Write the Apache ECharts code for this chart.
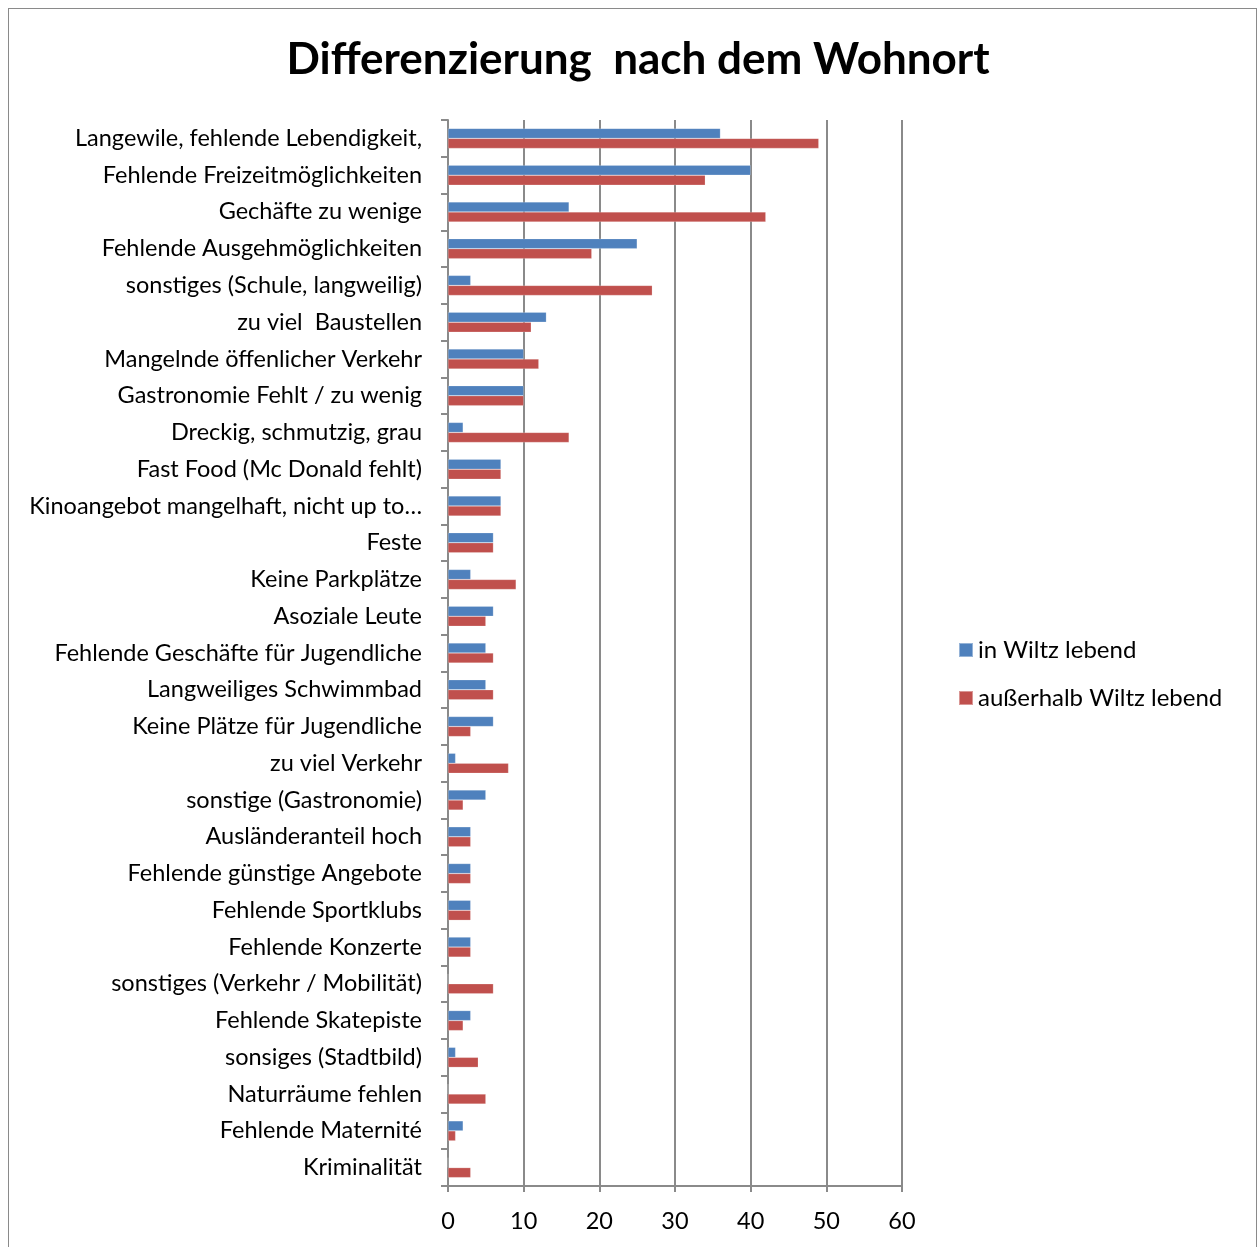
<!DOCTYPE html>
<html>
<head>
<meta charset="utf-8">
<script src="https://cdn.jsdelivr.net/npm/echarts@6/dist/echarts.min.js"></script>
<style>
  html, body { margin: 0; padding: 0; background: #fff; }
  #frame {
    position: absolute; left: 8px; top: 8px; width: 1249px; height: 1260px;
    border: 1px solid #8a8a8a; box-sizing: border-box;
  }
  #chart { position: absolute; left: 0; top: 0; width: 1260px; height: 1247px; }
</style>
</head>
<body>
<div id="frame"></div>
<div id="chart"></div>
<script>
const categories = [
  'Langewile, fehlende Lebendigkeit,',
  'Fehlende Freizeitmöglichkeiten',
  'Gechäfte zu wenige',
  'Fehlende Ausgehmöglichkeiten',
  'sonstiges (Schule, langweilig)',
  'zu viel  Baustellen',
  'Mangelnde öffenlicher Verkehr',
  'Gastronomie Fehlt / zu wenig',
  'Dreckig, schmutzig, grau',
  'Fast Food (Mc Donald fehlt)',
  'Kinoangebot mangelhaft, nicht up to…',
  'Feste',
  'Keine Parkplätze',
  'Asoziale Leute',
  'Fehlende Geschäfte für Jugendliche',
  'Langweiliges Schwimmbad',
  'Keine Plätze für Jugendliche',
  'zu viel Verkehr',
  'sonstige (Gastronomie)',
  'Ausländeranteil hoch',
  'Fehlende günstige Angebote',
  'Fehlende Sportklubs',
  'Fehlende Konzerte',
  'sonstiges (Verkehr / Mobilität)',
  'Fehlende Skatepiste',
  'sonsiges (Stadtbild)',
  'Naturräume fehlen',
  'Fehlende Maternité',
  'Kriminalität'
]
const inWiltz = [36, 40, 16, 25, 3, 13, 10, 10, 2, 7, 7, 6, 3, 6, 5, 5, 6, 1, 5, 3, 3, 3, 3, 0, 3, 1, 0, 2, 0]
const ausserhalb = [49, 34, 42, 19, 27, 11, 12, 10, 16, 7, 7, 6, 9, 5, 6, 6, 3, 8, 2, 3, 3, 3, 3, 6, 2, 4, 5, 1, 3]
const seriesNames = ['in Wiltz lebend', 'außerhalb Wiltz lebend']

const font = 'Lato, "Open Sans", sans-serif'
const chart = echarts.init(document.getElementById('chart'))
const option = {
  animation: false,
  color: ['#4F81BD', '#C0504D'],
  title: {
    text: 'Differenzierung  nach dem Wohnort',
    left: 633,
    textAlign: 'center',
    top: 33,
    textStyle: { fontFamily: font, fontSize: 44, fontWeight: 'bold', color: '#000' }
  },
  legend: {
    orient: 'vertical',
    left: 953,
    top: 633,
    itemWidth: 14,
    itemHeight: 14,
    itemGap: 24,
    icon: 'rect',
    textStyle: { fontFamily: font, fontSize: 24, color: '#000' },
    data: seriesNames
  },
  grid: { left: 448, right: 358, top: 120, bottom: 61 },
  xAxis: {
    type: 'value',
    min: 0,
    max: 60,
    interval: 10,
    axisLine: { show: true, lineStyle: { color: '#8a8a8a', width: 2 } },
    axisTick: { show: true, length: 6, lineStyle: { color: '#8a8a8a', width: 2 } },
    axisLabel: { fontFamily: font, fontSize: 23.5, color: '#000', margin: 23 },
    splitLine: { show: true, lineStyle: { color: '#8a8a8a', width: 2 } }
  },
  yAxis: {
    type: 'category',
    inverse: true,
    data: categories,
    axisLine: { show: true, lineStyle: { color: '#8a8a8a', width: 2 } },
    axisTick: { show: true, length: 7, lineStyle: { color: '#8a8a8a', width: 2 } },
    axisLabel: { fontFamily: font, fontSize: 23.5, color: '#000', margin: 26, interval: 0 }
  },
  series: [
    {
      name: seriesNames[0],
      type: 'bar',
      data: inWiltz,
      barWidth: 10,
      barGap: '0%',
      itemStyle: { borderColor: 'rgba(255,255,255,0.4)', borderWidth: 0.5 }
    },
    {
      name: seriesNames[1],
      type: 'bar',
      data: ausserhalb,
      barWidth: 10,
      barGap: '0%',
      itemStyle: { borderColor: 'rgba(255,255,255,0.4)', borderWidth: 0.5 }
    }
  ]
}
chart.setOption(option)
</script>
</body>
</html>
